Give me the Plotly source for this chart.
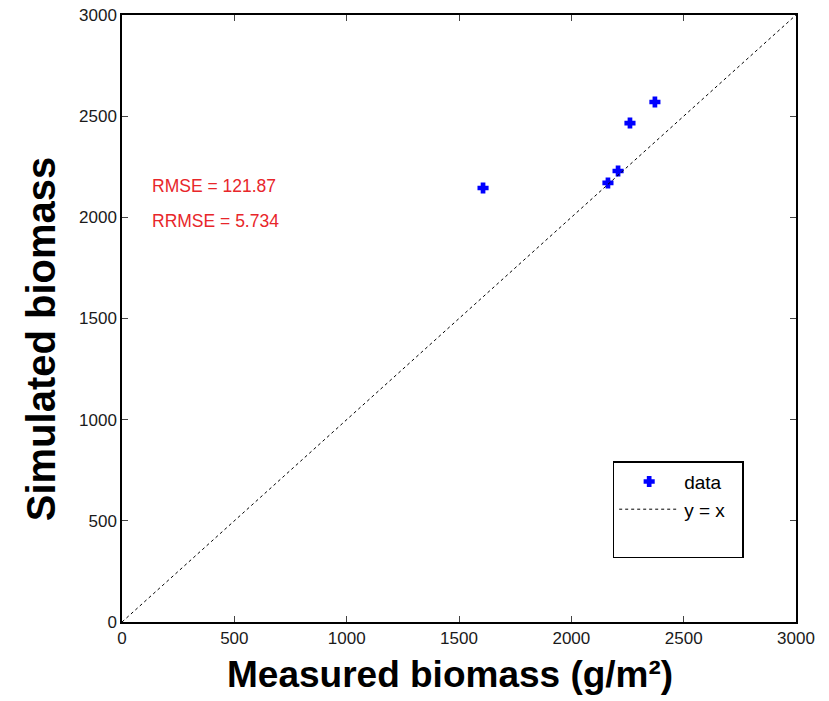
import plotly.graph_objects as go

measured = [1607, 2163, 2208, 2261, 2372]
simulated = [2145, 2170, 2229, 2466, 2570]
line_x = [0, 3000]
line_y = [0, 3000]
ticks = [0, 500, 1000, 1500, 2000, 2500, 3000]
stats = ["RMSE = 121.87", "RRMSE = 5.734"]
stats_y = [2155, 1982]
stats_x = 125
x_title = "<b>Measured biomass (g/m²)</b>"
y_title = "<b>Simulated biomass</b>"

fig = go.Figure()
fig.add_trace(go.Scatter(x=measured, y=simulated, mode="markers", name="data",
                         marker=dict(symbol="cross", size=8, color="#0000ff",
                                     line=dict(width=1.5, color="#0000ff"))))
fig.add_trace(go.Scatter(x=line_x, y=line_y, mode="lines", name="y = x",
                         line=dict(color="black", width=1, dash="3px,3px")))
fig.add_trace(go.Scatter(x=[None], y=[None], mode="markers", name="\u00a0" * 10,
                         marker=dict(size=1, color="rgba(0,0,0,0)")))

for t, yy in zip(stats, stats_y):
    fig.add_annotation(x=stats_x, y=yy, text=t, showarrow=False, xanchor="left",
                       font=dict(family="Liberation Sans, Arial", size=17.5, color="#e8262a"))

fig.add_annotation(xref="paper", yref="paper", x=0.487, y=-0.0857, text=x_title,
                   showarrow=False, xanchor="center", yanchor="middle",
                   font=dict(family="Liberation Sans, Arial", size=37, color="black"))
fig.add_annotation(xref="paper", yref="paper", x=-0.120, y=0.466, text=y_title,
                   showarrow=False, xanchor="center", yanchor="middle", textangle=-90,
                   font=dict(family="Liberation Sans, Arial", size=40, color="black"))

axis_common = dict(range=[0, 3000], tickvals=ticks, ticks="inside", ticklen=6,
                   showline=True, linecolor="black", linewidth=1.5, mirror="ticks",
                   showgrid=False, zeroline=False, automargin=False,
                   tickfont=dict(family="Liberation Sans, Arial", size=17, color="#1a1a1a"))
fig.update_xaxes(**axis_common)
fig.update_yaxes(**axis_common)

fig.update_layout(width=829, height=701, margin=dict(l=122, r=33, t=15, b=79),
                  plot_bgcolor="white", paper_bgcolor="white",
                  showlegend=True,
                  legend=dict(x=0.728, y=0.265, xanchor="left", yanchor="top",
                              bordercolor="black", borderwidth=1.5, bgcolor="white",
                              font=dict(family="Liberation Sans, Arial", size=19, color="black"),
                              itemwidth=60, tracegroupgap=12))
fig.write_html("out.html")
